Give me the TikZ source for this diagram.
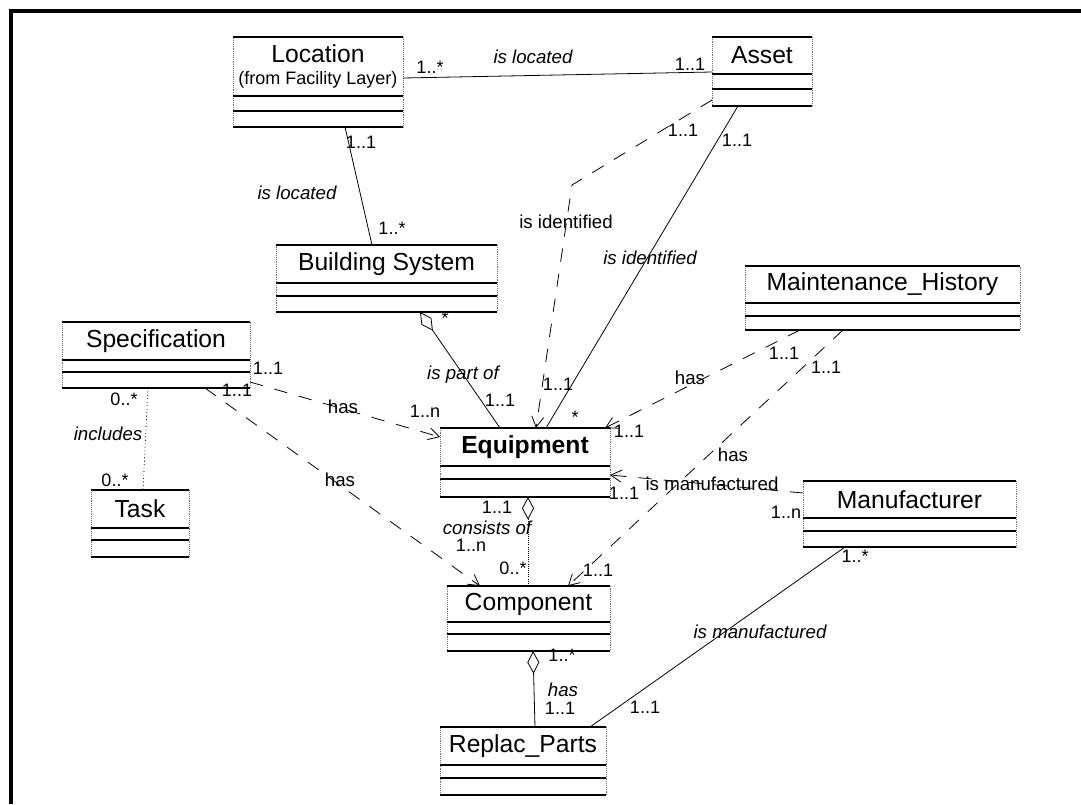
\documentclass[tikz,border=0pt]{standalone}
\usepackage{fontspec}
\setmainfont{Liberation Sans}
\usepackage{tikz}
\usetikzlibrary{arrows.meta}

\tikzset{
  clsbox/.style={draw=black!55, densely dotted, line width=0.4pt, inner sep=0pt, outer sep=0pt, anchor=north west},
  clsname/.style={font=\fontsize{18.5}{20}\selectfont, align=center, inner sep=0pt},
  clsline/.style={line width=1.1pt},
  mult/.style={font=\fontsize{13.5}{15}\selectfont, inner sep=1pt},
  role/.style={font=\fontsize{14}{16}\selectfont\itshape, inner sep=1pt},
  plainrole/.style={font=\fontsize{14}{16}\selectfont, inner sep=1pt},
  assoc/.style={line width=0.6pt},
  dep/.style={line width=0.6pt, dash pattern=on 10pt off 9pt},
  navi/.style={-{Straight Barb[length=8pt,width=9pt]}},
  aggr/.style={{Diamond[open,length=17pt,width=9pt]}-},
}

\newcommand{\umlclass}[8]{%
  \node[clsbox, minimum width={(#4-#2)*0.75pt}, minimum height={(#7-#3)*0.75pt}] (#1) at (#2,#3) {};
  \node[clsname] (#1-name) at ({(#2+#4)/2},{(#3+#5)/2}) {#8};
  \draw[clsline] (#1.north west) -- (#1.north east)
    (#1.west |- 0,#5) -- (#1.east |- 0,#5)
    (#1.west |- 0,#6) -- (#1.east |- 0,#6)
    (#1.south west) -- (#1.south east);}

\begin{document}
\begin{tikzpicture}[x=0.75pt,y=0.75pt,yscale=-1,xscale=1]
            \useasboundingbox (0,0) rectangle (1081,804);
            \draw [line width=3.4pt] (11,804) -- (11,11) -- (1081,11);

            \umlclass{loc}{233}{37}{403}{96}{111}{127}{Location\\[-3pt]{\fontsize{13.5}{15}\selectfont (from Facility Layer)}}
            \umlclass{asset}{712}{37}{812}{74}{89}{106}{Asset}
            \umlclass{bsys}{276}{245}{497}{283}{296}{312}{Building System}
            \umlclass{spec}{62}{322}{250}{360}{372}{388}{Specification}
            \umlclass{task}{91}{490}{189}{528}{540}{557}{Task}
            \umlclass{maint}{745}{266}{1020}{303}{316}{330}{Maintenance\_History}
            \umlclass{equip}{440}{428}{610}{466}{479}{497}{\bfseries Equipment}
            \umlclass{manuf}{803}{481}{1016}{518}{531}{547}{Manufacturer}
            \umlclass{comp}{447}{586}{610}{622}{634}{651}{Component}
            \umlclass{rparts}{440}{727}{606}{765}{778}{795}{Replac\_Parts}

            \coordinate (idbend) at (572,185);
            \draw [assoc] (loc.east |- 0,78) -- (asset.west |- 0,72);
            \draw [assoc] (loc.south -| 345,0) -- (bsys.north -| 372,0);
            \draw [dep,navi] (asset.west |- 0,100) -- (idbend) -- (equip.north -| 536,0);
            \draw [assoc] (asset.south -| 738,0) -- (equip.north -| 546,0);
            \draw [assoc,aggr] (bsys.south -| 420,0) -- (equip.north -| 500,0);
            \draw [dep,navi] (spec.east |- 0,382) -- (equip.west |- 0,437);
            \draw [dep,navi] (spec.south -| 205,0) -- (comp.north -| 480,0);
            \draw [dep,navi] (maint.south -| 800,0) -- (equip.north -| 605,0);
            \draw [dep,navi] (maint.south -| 843,0) -- (comp.north -| 568,0);
            \draw [dep,navi] (manuf.west |- 0,493) -- (equip.east |- 0,475);
            \draw [densely dotted,line width=0.6pt,aggr] (equip.south -| 528,0) -- (comp.north -| 528,0);
            \draw [assoc,aggr] (comp.south -| 533,0) -- (rparts.north -| 535,0);
            \draw [assoc] (rparts.north -| 590,0) -- (manuf.south -| 845,0);
            \draw [dotted,line width=0.6pt] (spec.south -| 148,0) -- (task.north -| 143,0);

            \draw (430,67) node [mult] (m1) {1..*};
            \draw (533,57) node [role] (r1) {is located};
            \draw (690,64) node [mult] (m2) {1..1};
            \draw (361,142) node [mult] (m3) {1..1};
            \draw (297,193) node [role] (r2) {is located};
            \draw (392,228) node [mult] (m4) {1..*};
            \draw (683,130) node [mult] (m5) {1..1};
            \draw (737,140) node [mult] (m6) {1..1};
            \draw (566,222) node [plainrole] (r3) {is identified};
            \draw (650,258) node [role] (r4) {is identified};
            \draw (445,318) node [mult] (m7) {*};
            \draw (268,368) node [mult] (m8) {1..1};
            \draw (237,390) node [mult] (m9) {1..1};
            \draw (124,399) node [mult] (m10) {0..*};
            \draw (108,434) node [role] (r5) {includes};
            \draw (115,480) node [mult] (m11) {0..*};
            \draw (343,407) node [plainrole] (r6) {has};
            \draw (463,375) node [role] (r7) {is part of};
            \draw (558,384) node [mult] (m12) {1..1};
            \draw (500,400) node [mult] (m13) {1..1};
            \draw (425,411) node [mult] (m14) {1..n};
            \draw (575,417) node [mult] (m15) {*};
            \draw (690,378) node [plainrole] (r8) {has};
            \draw (784,353) node [mult] (m16) {1..1};
            \draw (826,367) node [mult] (m17) {1..1};
            \draw (629,431) node [mult] (m18) {1..1};
            \draw (733,455) node [plainrole] (r9) {has};
            \draw (340,480) node [plainrole] (r10) {has};
            \draw (624,493) node [mult] (m19) {1..1};
            \draw (712,484) node [plainrole] (r11) {is manufactured};
            \draw (786,512) node [mult] (m20) {1..n};
            \draw (497,507) node [mult] (m21) {1..1};
            \draw (487,528) node [role] (r12) {consists of};
            \draw (471,545) node [mult] (m22) {1..n};
            \draw (513,568) node [mult] (m23) {0..*};
            \draw (598,570) node [mult] (m24) {1..1};
            \draw (562,655) node [mult] (m25) {1..*};
            \draw (563,690) node [role] (r13) {has};
            \draw (560,708) node [mult] (m26) {1..1};
            \draw (645,707) node [mult] (m27) {1..1};
            \draw (760,632) node [role] (r14) {is manufactured};
            \draw (855,556) node [mult] (m28) {1..*};
\end{tikzpicture}
\end{document}
